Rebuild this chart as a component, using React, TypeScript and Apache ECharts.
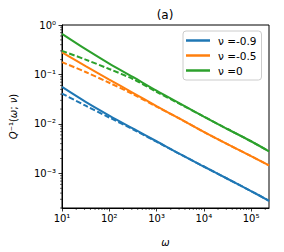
import React, { useEffect, useRef } from "react";
import * as echarts from "echarts";

const omega = [10, 31.6, 100, 316, 1000, 3162, 10000, 31623, 100000, 240000];
const nuM09Solid = [0.056, 0.028, 0.0148, 0.0081, 0.00447, 0.00245, 0.00138, 0.00078, 0.00044, 0.00028];
const nuM09Dashed = [0.041, 0.0234, 0.0135, 0.0078, 0.00437, 0.00245, 0.00138, 0.00078, 0.00044, 0.00028];
const nuM05Solid = [0.28, 0.148, 0.079, 0.0427, 0.0229, 0.0126, 0.0069, 0.0039, 0.00224, 0.00145];
const nuM05Dashed = [0.178, 0.112, 0.068, 0.04, 0.0224, 0.0126, 0.0069, 0.0039, 0.00224, 0.00145];
const nu0Solid = [0.66, 0.324, 0.166, 0.089, 0.047, 0.0257, 0.0141, 0.0079, 0.00447, 0.0028];
const nu0Dashed = [0.3, 0.2, 0.129, 0.081, 0.0447, 0.0251, 0.0141, 0.0079, 0.00447, 0.0028];

const legendNames = ["ν =-0.9", "ν =-0.5", "ν =0"];
const colors = ["#1f77b4", "#ff7f0e", "#2ca02c"];

const X_MIN = 10;
const X_MAX = 240000;
const Y_MIN = 0.0002;
const Y_MAX = 1;

const FONT = "DejaVu Sans";

const SUP: Record<string, string> = {
  "0": "⁰", "1": "¹", "2": "²", "3": "³", "4": "⁴", "5": "⁵",
  "6": "⁶", "7": "⁷", "8": "⁸", "9": "⁹", "-": "⁻",
};

function powLabel(v: number): string {
  const l = Math.log10(v);
  const e = Math.round(l);
  if (Math.abs(l - e) > 0.01) return "";
  return "10" + String(e).split("").map((c) => SUP[c] || c).join("");
}

function minorTicks(lo: number, hi: number): number[] {
  const out: number[] = [];
  for (let p = Math.floor(Math.log10(lo)); p <= Math.ceil(Math.log10(hi)); p++) {
    for (let m = 2; m <= 9; m++) {
      const v = m * Math.pow(10, p);
      if (v >= lo * 0.999 && v <= hi * 1.001) out.push(v);
    }
  }
  return out;
}

export default function App() {
  const ref = useRef<HTMLDivElement>(null);
  useEffect(() => {
    if (!ref.current) return;
    const chart = echarts.init(ref.current, null, { renderer: "svg" });
    const mk = (arr: number[]) => omega.map((x, i) => [x, arr[i]]);
    const solid = [nuM09Solid, nuM05Solid, nu0Solid];
    const dashed = [nuM09Dashed, nuM05Dashed, nu0Dashed];
    const series: any[] = [];
    for (let k = 0; k < 3; k++) {
      series.push({
        name: legendNames[k],
        type: "line",
        data: mk(solid[k]),
        smooth: 0.3,
        showSymbol: false,
        symbol: "none",
        lineStyle: { color: colors[k], width: 2 },
        itemStyle: { color: colors[k] },
        z: 3,
      });
      series.push({
        name: legendNames[k] + " dashed",
        type: "line",
        data: mk(dashed[k]),
        smooth: 0.3,
        showSymbol: false,
        symbol: "none",
        lineStyle: { color: colors[k], width: 2, type: [5.5, 2.4] },
        itemStyle: { color: colors[k] },
        z: 3,
      });
    }
    series.push({
      type: "custom",
      silent: true,
      clip: false,
      data: minorTicks(X_MIN, X_MAX).map((v) => [v, Y_MIN]),
      renderItem: (_p: any, api: any) => {
        const pt = api.coord([api.value(0), Y_MIN]);
        return {
          type: "line",
          shape: { x1: pt[0], y1: pt[1], x2: pt[0], y2: pt[1] + 2 },
          style: { stroke: "#000", lineWidth: 0.6 },
        };
      },
    });
    series.push({
      type: "custom",
      silent: true,
      clip: false,
      data: minorTicks(Y_MIN, Y_MAX).map((v) => [X_MIN, v]),
      renderItem: (_p: any, api: any) => {
        const pt = api.coord([X_MIN, api.value(1)]);
        return {
          type: "line",
          shape: { x1: pt[0], y1: pt[1], x2: pt[0] - 2, y2: pt[1] },
          style: { stroke: "#000", lineWidth: 0.6 },
        };
      },
    });

    chart.setOption({
      animation: false,
      textStyle: { fontFamily: FONT },
      grid: {
        left: 61,
        right: 15,
        top: 25,
        bottom: 38,
        show: true,
        borderColor: "#000",
        borderWidth: 1,
        backgroundColor: "transparent",
      },
      graphic: [
        {
          type: "text",
          x: 165,
          y: 15,
          style: {
            text: "(a)",
            align: "center",
            verticalAlign: "middle",
            fontSize: 12,
            fontFamily: FONT,
            fill: "#000",
          },
        },
      ],
      legend: {
        data: legendNames,
        orient: "vertical",
        left: 183,
        top: 31,
        icon: "rect",
        itemWidth: 24,
        itemHeight: 2.5,
        itemGap: 4,
        padding: [4, 5, 4, 3],
        borderColor: "#cccccc",
        borderWidth: 1,
        borderRadius: 3,
        backgroundColor: "rgba(255,255,255,0.8)",
        textStyle: { fontSize: 10.5, fontFamily: FONT, color: "#000", padding: [0, 0, 0, 3] },
      },
      xAxis: {
        type: "log",
        logBase: 10,
        min: X_MIN,
        max: X_MAX,
        name: "ω",
        nameLocation: "middle",
        nameGap: 29,
        nameTextStyle: { fontSize: 10, fontStyle: "italic", fontFamily: FONT, color: "#000" },
        axisLine: { show: true, lineStyle: { color: "#000", width: 1 } },
        axisTick: { show: true, length: 3.5, lineStyle: { color: "#000", width: 0.8 } },
        splitLine: { show: false },
        minorTick: { show: false },
        axisLabel: {
          formatter: powLabel,
          fontSize: 10,
          fontFamily: FONT,
          color: "#000",
          margin: 5,
          showMaxLabel: false,
        },
      },
      yAxis: {
        type: "log",
        logBase: 10,
        min: Y_MIN,
        max: Y_MAX,
        name: "{i|Q}{n|⁻¹(}{i|ω}{n|; }{i|ν}{n|)}",
        nameLocation: "middle",
        nameGap: 44,
        nameRotate: 90,
        nameTextStyle: {
          fontSize: 10,
          fontFamily: FONT,
          color: "#000",
          rich: {
            i: { fontSize: 10, fontStyle: "italic", fontFamily: FONT, color: "#000" },
            n: { fontSize: 10, fontFamily: FONT, color: "#000" },
          },
        },
        axisLine: { show: true, lineStyle: { color: "#000", width: 1 } },
        axisTick: { show: true, length: 3.5, lineStyle: { color: "#000", width: 0.8 } },
        splitLine: { show: false },
        minorTick: { show: false },
        axisLabel: {
          formatter: powLabel,
          fontSize: 10,
          fontFamily: FONT,
          color: "#000",
          margin: 6,
          showMinLabel: false,
        },
      },
      series,
    });
    return () => chart.dispose();
  }, []);
  return (
    <div
      ref={ref}
      style={{ position: "absolute", left: 0, top: 0, width: 284, height: 252 }}
    />
  );
}
